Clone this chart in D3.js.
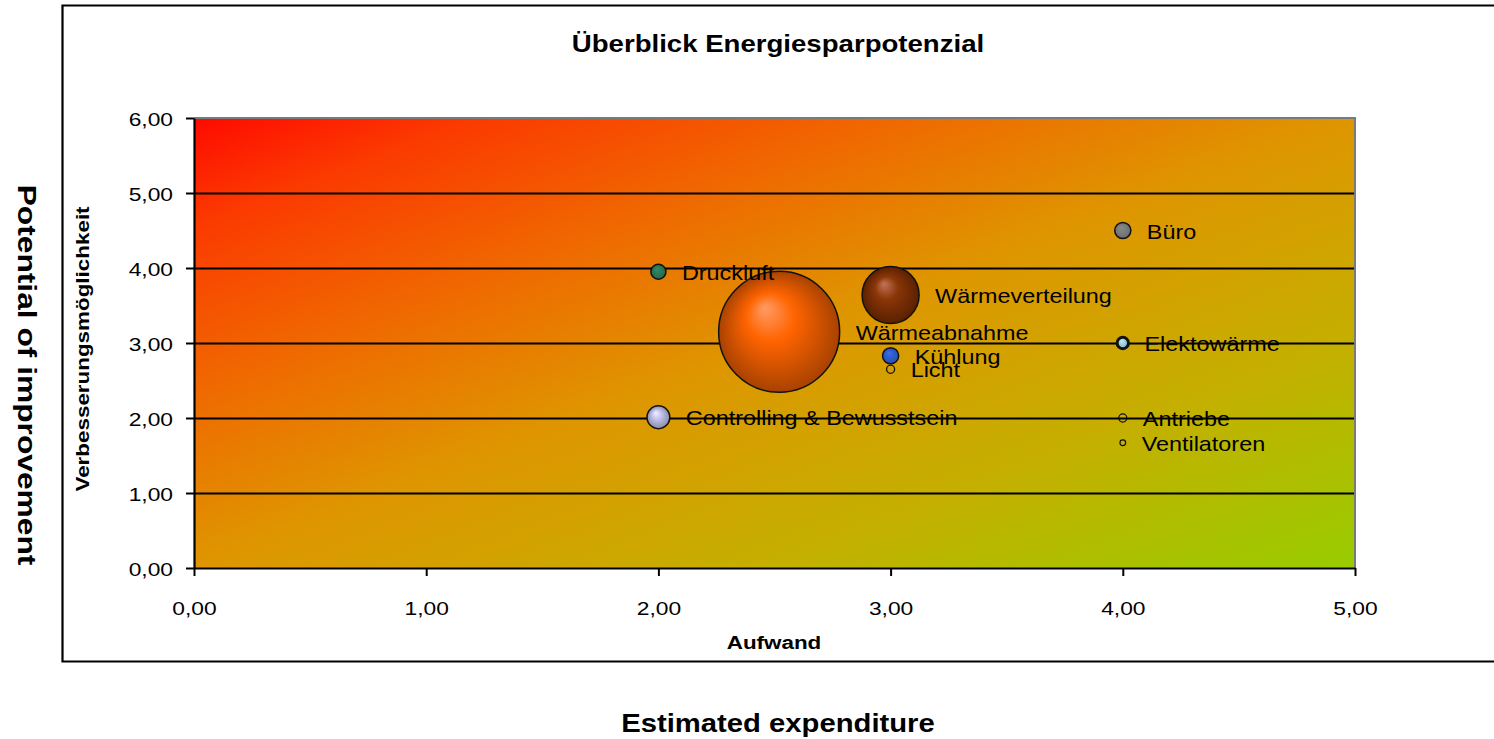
<!DOCTYPE html>
<html>
<head>
<meta charset="utf-8">
<script src="https://cdn.jsdelivr.net/npm/d3@7"></script>
<style>
  html, body { margin: 0; padding: 0; background: #fff; }
  svg { display: block; font-family: "Liberation Sans", Arial, sans-serif; }
</style>
</head>
<body>
<svg id="chart" width="1494" height="739"></svg>
<script>
// Energy-saving potential per area: effort (x), improvement potential (y), savings (bubble size)
const areas      = ["Wärmeabnahme", "Wärmeverteilung", "Controlling & Bewusstsein", "Büro", "Kühlung",
                    "Druckluft", "Elektowärme", "Licht", "Antriebe", "Ventilatoren"];
const aufwand    = [2.52, 3.0, 2.0, 4.0, 3.0, 2.0, 4.0, 3.0, 4.0, 4.0];
const potenzial  = [3.15, 3.64, 2.01, 4.5, 2.83, 3.95, 3.0, 2.65, 2.0, 1.67];
const einsparung = [450, 100, 16, 8, 8, 7, 4, 2, 2, 1];
const xTicks     = [0, 1, 2, 3, 4, 5];
const yTicks     = [0, 1, 2, 3, 4, 5, 6];

// Bubble looks: highlight, base and rim colours, stroke width
const bubbleStyle = {
  "Wärmeabnahme":              { hi: "#ff9c66", base: "#ff6400", edge: "#a84200", sw: 1.5 },
  "Wärmeverteilung":           { hi: "#c27458", base: "#8a3608", edge: "#5a2000", sw: 1.5 },
  "Controlling & Bewusstsein": { hi: "#f2f2ff", base: "#c4c4ee", edge: "#8a8aa8", sw: 1.5 },
  "Büro":                      { hi: "#888888", base: "#808080", edge: "#6c6c6c", sw: 1.5 },
  "Kühlung":                   { hi: "#4070e0", base: "#2f5fd0", edge: "#2850b8", sw: 1.5 },
  "Druckluft":                 { hi: "#348a68", base: "#2e7d5a", edge: "#256a4c", sw: 1.5 },
  "Elektowärme":               { hi: "#c8ecf6", base: "#a8d4e2", edge: "#86b6c8", sw: 3 },
  "Licht":                     { hi: "none", base: "none", edge: "none", sw: 1.3 },
  "Antriebe":                  { hi: "none", base: "none", edge: "none", sw: 1.3 },
  "Ventilatoren":              { hi: "none", base: "none", edge: "none", sw: 1.2 }
};

const svg = d3.select("#chart");

const plot = { left: 194, right: 1355, top: 118, bottom: 568 };
const x = d3.scaleLinear().domain([0, 5]).range([plot.left, plot.right]);
const y = d3.scaleLinear().domain([0, 6]).range([plot.bottom, plot.top]);
const r = d3.scaleSqrt().domain([0, d3.max(einsparung)]).range([0, 60.5]);

// Text is drawn slightly widened, as in the original chart rendering
function label(parent, px, py, str, o = {}) {
  return parent.append("text")
    .attr("transform", `translate(${px},${py}) rotate(${o.rotate || 0}) scale(${o.sx || 1.17},1)`)
    .attr("text-anchor", o.anchor || "start")
    .attr("font-size", o.size || 20)
    .attr("font-weight", o.bold ? "bold" : "normal")
    .attr("fill", "#000")
    .text(str);
}

// Outer chart frame (open on the right)
svg.append("path")
  .attr("d", `M1494,5.5 H62.5 V661.5 H1494`)
  .attr("fill", "none").attr("stroke", "#000").attr("stroke-width", 2.2);

// Plot background gradient
const defs = svg.append("defs");
const bg = defs.append("linearGradient").attr("id", "bgGrad")
  .attr("x1", 0).attr("y1", 0).attr("x2", 1).attr("y2", 1);
[[0, "#ff0a00"], [0.12, "#fb3a00"], [0.3, "#f06800"], [0.5, "#de9600"], [0.75, "#c4b000"], [1, "#98cc00"]]
  .forEach(([o, c]) => bg.append("stop").attr("offset", o).attr("stop-color", c));

svg.append("rect")
  .attr("x", plot.left).attr("y", plot.top)
  .attr("width", plot.right - plot.left).attr("height", plot.bottom - plot.top)
  .attr("fill", "url(#bgGrad)");

// Horizontal gridlines
svg.append("g").selectAll("line")
  .data(yTicks.filter(v => v > 0 && v < 6))
  .join("line")
  .attr("x1", plot.left).attr("x2", plot.right)
  .attr("y1", d => Math.round(y(d)) + 0.5).attr("y2", d => Math.round(y(d)) + 0.5)
  .attr("stroke", "#000").attr("stroke-width", 1.8);

// Plot border (top/right grey)
svg.append("path")
  .attr("d", `M${plot.left},${plot.top} H${plot.right} V${plot.bottom}`)
  .attr("fill", "none").attr("stroke", "#7a7a7a").attr("stroke-width", 2);

// Axes
const fmt = d => d3.format(".2f")(d).replace(".", ",");
const yAxis = svg.append("g").attr("transform", `translate(${plot.left},0)`)
  .call(d3.axisLeft(y).tickValues(yTicks).tickFormat(fmt).tickSize(8).tickSizeOuter(0));
const xAxis = svg.append("g").attr("transform", `translate(0,${plot.bottom})`)
  .call(d3.axisBottom(x).tickValues(xTicks).tickFormat(fmt).tickSize(8).tickSizeOuter(0));
[yAxis, xAxis].forEach(a => {
  a.select(".domain").attr("stroke", "#000").attr("stroke-width", 2.2);
  a.selectAll(".tick line").attr("stroke", "#000").attr("stroke-width", 2);
  a.attr("font-family", null).attr("font-size", null);
});
yAxis.selectAll(".tick text")
  .attr("x", null).attr("dy", null)
  .attr("transform", `translate(-21,7) scale(1.2,1)`)
  .attr("font-size", 19).attr("fill", "#000");
xAxis.selectAll(".tick text")
  .attr("y", null).attr("dy", null)
  .attr("transform", `translate(0,47) scale(1.2,1)`)
  .attr("font-size", 19).attr("fill", "#000");

// Bubble gradients
const rows = areas.map((name, i) => ({
  name, x: aufwand[i], y: potenzial[i], size: einsparung[i], st: bubbleStyle[name], id: "bub" + i
}));
rows.forEach(d => {
  if (d.st.base === "none") return;
  const g = defs.append("radialGradient").attr("id", d.id)
    .attr("cx", 0.5).attr("cy", 0.5).attr("r", 0.5)
    .attr("fx", 0.38).attr("fy", 0.3);
  g.append("stop").attr("offset", 0).attr("stop-color", d.st.hi);
  g.append("stop").attr("offset", 0.4).attr("stop-color", d.st.base);
  g.append("stop").attr("offset", 1).attr("stop-color", d.st.edge);
});

// Bubbles, largest first
svg.append("g").selectAll("circle")
  .data(rows.slice().sort((a, b) => b.size - a.size))
  .join("circle")
  .attr("cx", d => x(d.x)).attr("cy", d => y(d.y))
  .attr("r", d => r(d.size))
  .attr("fill", d => d.st.base === "none" ? "none" : `url(#${d.id})`)
  .attr("stroke", "#111").attr("stroke-width", d => d.st.sw);

// Data labels to the right of each bubble
const lbl = svg.append("g");
rows.forEach(d => {
  label(lbl, x(d.x) + r(d.size) + 16, y(d.y) + 8, d.name, { size: 20, sx: 1.17 });
});

// Titles
label(svg, 778, 52, "Überblick Energiesparpotenzial", { size: 23, bold: true, anchor: "middle", sx: 1.2 });
label(svg, 774, 649, "Aufwand", { size: 19, bold: true, anchor: "middle", sx: 1.18 });
label(svg, 89, 349, "Verbesserungsmöglichkeit", { size: 19, bold: true, anchor: "middle", rotate: -90, sx: 1.18 });
label(svg, 18, 375, "Potential of improvement", { size: 26, bold: true, anchor: "middle", rotate: 90, sx: 1.22 });
label(svg, 778, 732, "Estimated expenditure", { size: 25, bold: true, anchor: "middle", sx: 1.17 });
</script>
</body>
</html>
